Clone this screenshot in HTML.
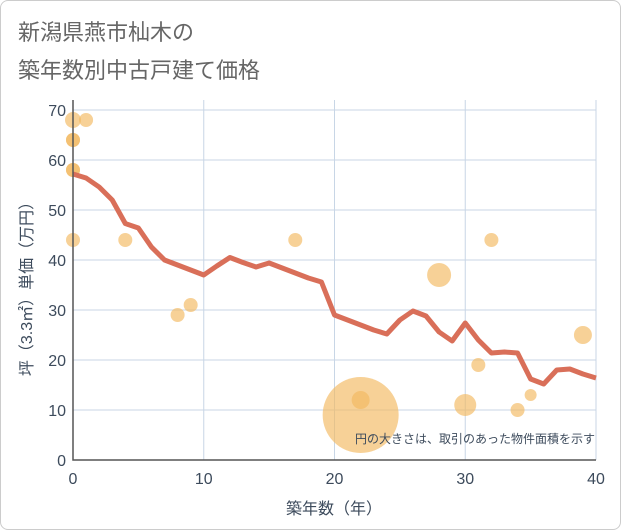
<!DOCTYPE html>
<html><head><meta charset="utf-8"><style>
body{margin:0;background:#fff;}
.wrap{width:619px;height:528px;border:1px solid #ccc;border-radius:8px;position:relative;font-family:"Liberation Sans","Noto Sans CJK JP",sans-serif;}
</style></head><body>
<div class="wrap">
<svg width="621" height="530" style="position:absolute;left:-1px;top:-1px" font-family="Liberation Sans, Noto Sans CJK JP, sans-serif">
<text x="18" y="40" font-size="22" fill="#666">新潟県燕市杣木の</text>
<text x="18" y="78" font-size="22" fill="#666">築年数別中古戸建て価格</text>
<g id="grid"></g><g id="dots"></g><g id="line"></g><g id="axes"></g>
<text x="595" y="443" font-size="12" fill="#3d4b5c" text-anchor="end">円の大きさは、取引のあった物件面積を示す</text>
<text x="334" y="514" font-size="16" fill="#3d4b5c" text-anchor="middle">築年数（年）</text>
<text transform="translate(32,285) rotate(-90)" font-size="16" fill="#3d4b5c" text-anchor="middle">坪（3.3㎡）単価（万円）</text>
</svg>
</div>
<script>
const lineYears=[0,1,2,3,4,5,6,7,8,9,10,11,12,13,14,15,16,17,18,19,20,21,22,23,24,25,26,27,28,29,30,31,32,33,34,35,36,37,38,39,40];
const lineValues=[57.2,56.4,54.6,52,47.3,46.4,42.6,40,39,38,37,38.8,40.5,39.5,38.6,39.4,38.4,37.4,36.4,35.6,29,28,27,26,25.2,28,29.8,28.8,25.6,23.8,27.4,24,21.4,21.6,21.4,16.2,15.2,18,18.2,17.2,16.4];
const dotY=[0,1,0,0,0,0,0,4,8,9,17,22,22,28,30,31,32,34,35,39];
const dotV=[68,68,64,64,58,58,44,44,29,31,44,12,9,37,11,19,44,10,13,25];
const dotSizes=[8,7,7,7,7,7,7,7,7,7,7,9,38,12,11,7,7,7,6,9];
const xTicks=[0,10,20,30,40];
const yTicks=[0,10,20,30,40,50,60,70];
const X=v=>73+v*(596-73)/40, Y=v=>460-v*5;
const NS="http://www.w3.org/2000/svg";
function mk(t,a,p){const e=document.createElementNS(NS,t);for(const k in a)e.setAttribute(k,a[k]);document.getElementById(p).appendChild(e);return e;}
xTicks.forEach(t=>{const l=mk('line',{x1:X(t),x2:X(t),y1:100,y2:460,stroke:'#c8d6e6'},'grid');


const tx=mk('text',{x:X(t),y:484,'font-size':16,fill:'#3d4b5c','text-anchor':'middle'},'axes');tx.textContent=t;

});
yTicks.forEach(t=>{const l=mk('line',{x1:73,x2:596,y1:Y(t),y2:Y(t),stroke:'#c8d6e6'},'grid');


const tx=mk('text',{x:66,y:Y(t)+6,'font-size':16,fill:'#3d4b5c','text-anchor':'end'},'axes');tx.textContent=t;

});
const ax=mk('path',{d:'M73 100V460H596',fill:'none',stroke:'#555','stroke-width':1.5},'axes');


dotV.forEach((v,i)=>{const c=mk('circle',{cx:X(dotY[i]),cy:Y(v),r:dotSizes[i],fill:'#f3b95f','fill-opacity':0.65},'dots');

});
const p=mk('polyline',{points:lineValues.map((v,i)=>X(lineYears[i])+','+Y(v)).join(' '),fill:'none',stroke:'#d96f59','stroke-width':5,'stroke-linejoin':'round'},'line');


</script>
</body></html>
